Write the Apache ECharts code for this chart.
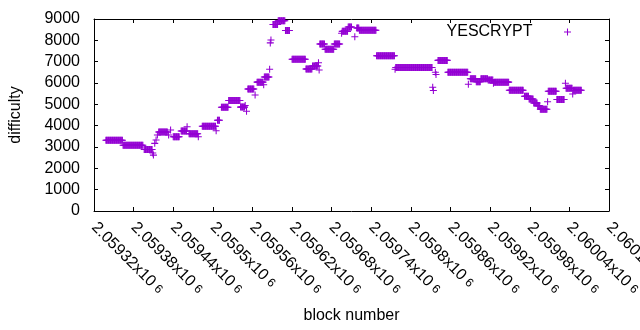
<!DOCTYPE html>
<html>
<head>
<meta charset="utf-8">
<script src="https://cdn.jsdelivr.net/npm/echarts@6/dist/echarts.min.js"></script>
<style>
  html, body { margin: 0; padding: 0; background: #fff; }
  #chart { width: 640px; height: 330px; }
</style>
</head>
<body>
<div id="chart"></div>
<script>
// difficulty per block, kept as runs of consecutive blocks
var runStart = [2059338, 2059364, 2059396, 2059409, 2059410, 2059412, 2059414, 2059416, 2059418, 2059433,
                2059436, 2059440, 2059452, 2059461, 2059464, 2059478, 2059484, 2059505, 2059507, 2059513,
                2059524, 2059542, 2059549, 2059551, 2059553, 2059564, 2059567, 2059577, 2059578, 2059586,
                2059587, 2059588, 2059591, 2059599, 2059610, 2059620, 2059641, 2059651, 2059660, 2059661,
                2059662, 2059670, 2059684, 2059695, 2059696, 2059705, 2059715, 2059718, 2059722, 2059748,
                2059776, 2059777, 2059833, 2059834, 2059837, 2059838, 2059841, 2059856, 2059887, 2059890,
                2059899, 2059906, 2059917, 2059925, 2059926, 2059949, 2059972, 2059979, 2059986, 2059992,
                2059996, 2060007, 2060008, 2060021, 2060034, 2060035, 2060045, 2060046];
var runEnd   = [2059363, 2059394, 2059408, 2059409, 2059410, 2059412, 2059414, 2059416, 2059431, 2059433,
                2059436, 2059449, 2059460, 2059461, 2059477, 2059478, 2059504, 2059505, 2059510, 2059523,
                2059541, 2059548, 2059549, 2059551, 2059562, 2059564, 2059576, 2059577, 2059585, 2059586,
                2059587, 2059588, 2059598, 2059609, 2059616, 2059640, 2059650, 2059659, 2059660, 2059661,
                2059669, 2059683, 2059692, 2059695, 2059704, 2059710, 2059715, 2059721, 2059747, 2059775,
                2059776, 2059832, 2059833, 2059834, 2059837, 2059838, 2059855, 2059886, 2059887, 2059898,
                2059905, 2059916, 2059924, 2059925, 2059948, 2059970, 2059978, 2059985, 2059991, 2059995,
                2060006, 2060007, 2060020, 2060032, 2060034, 2060044, 2060045, 2060058];
var runDiff  = [3320, 3080, 2880, 2720, 2620, 3170, 3330, 3560, 3700, 3560,
                3800, 3480, 3750, 3950, 3620, 3480, 3970, 3760, 4250, 4860,
                5180, 4870, 4950, 4680, 5720, 5440, 6040, 5920, 6280, 6640,
                7880, 8020, 8740, 8920, 8460, 7115, 6660, 6800, 6950, 6610,
                7830, 7585, 7830, 8330, 8420, 8625, 8170, 8580, 8470, 7280,
                6640, 6730, 5800, 5650, 6500, 6400, 7060, 6500, 5940, 6200,
                6060, 6200, 6140, 5985, 6040, 5660, 5380, 5250, 5060, 4930,
                4770, 5120, 5610, 5225, 5990, 5750, 5480, 5660];

var seriesName = 'YESCRYPT';
var xMin = 2059320, xMax = 2060100, xStep = 60;
var yMin = 0, yMax = 9000, yStep = 1000;

var points = [];
for (var i = 0; i < runStart.length; i++) {
  for (var b = runStart[i]; b <= runEnd[i]; b++) {
    points.push([b, runDiff[i]]);
  }
}

var font = 'Liberation Sans';
var purple = '#9400d3';
// gnuplot style "+" point
var plus = 'path://M4.25,0h1.5v4.25h4.25v1.5h-4.25v4.25h-1.5v-4.25h-4.25v-1.5h4.25z';

var chart = echarts.init(document.getElementById('chart'), null, { renderer: 'canvas' });

var tickStyle = { inside: true, length: 4, lineStyle: { color: '#000', width: 1 } };
var lineStyle = { show: true, onZero: false, lineStyle: { color: '#000', width: 1 } };

chart.setOption({
  animation: false,
  backgroundColor: '#fff',
  grid: { left: 94, top: 19, width: 515, height: 192, outerBoundsMode: 'none' },
  legend: {
    data: [{ name: seriesName, icon: plus }],
    right: 69, top: 24, padding: 0,
    align: 'right',
    itemWidth: 60, itemHeight: 7,
    selectedMode: false,
    textStyle: { fontFamily: font, fontSize: 16, color: '#000' }
  },
  xAxis: [{
    type: 'value', min: xMin, max: xMax, interval: xStep,
    name: 'block number', nameLocation: 'middle', nameGap: 97, nameMoveOverlap: false,
    nameTextStyle: { fontFamily: font, fontSize: 16, color: '#000' },
    axisLine: lineStyle, axisTick: tickStyle,
    splitLine: { show: false },
    axisLabel: {
      rotate: -45, margin: 14, showMinLabel: true, showMaxLabel: true,
      fontFamily: font, fontSize: 16, color: '#000',
      formatter: function (v) {
        return '{m|' + parseFloat((v / 1e6).toFixed(5)) + 'x10}{e|6}';
      },
      rich: {
        m: { fontFamily: font, fontSize: 16, color: '#000' },
        e: { fontFamily: font, fontSize: 12, color: '#000', padding: [0, 0, 0, 4] }
      }
    }
  }, {
    type: 'value', position: 'top', min: xMin, max: xMax, interval: xStep,
    axisLine: lineStyle, axisTick: tickStyle,
    axisLabel: { show: false }, splitLine: { show: false }
  }],
  yAxis: [{
    type: 'value', min: yMin, max: yMax, interval: yStep,
    name: 'difficulty', nameLocation: 'middle', nameGap: 70, nameRotate: 90, nameMoveOverlap: false,
    nameTextStyle: { fontFamily: font, fontSize: 16, color: '#000' },
    axisLine: lineStyle, axisTick: tickStyle,
    splitLine: { show: false },
    axisLabel: {
      margin: 14, fontFamily: font, fontSize: 16, color: '#000',
      formatter: function (v) { return String(v); }
    }
  }, {
    type: 'value', position: 'right', min: yMin, max: yMax, interval: yStep,
    axisLine: lineStyle, axisTick: tickStyle,
    axisLabel: { show: false }, splitLine: { show: false }
  }],
  series: [{
    name: seriesName,
    type: 'scatter',
    data: points,
    symbol: plus,
    symbolSize: 7,
    itemStyle: { color: purple, opacity: 1 },
    emphasis: { disabled: true }
  }]
});
</script>
</body>
</html>
